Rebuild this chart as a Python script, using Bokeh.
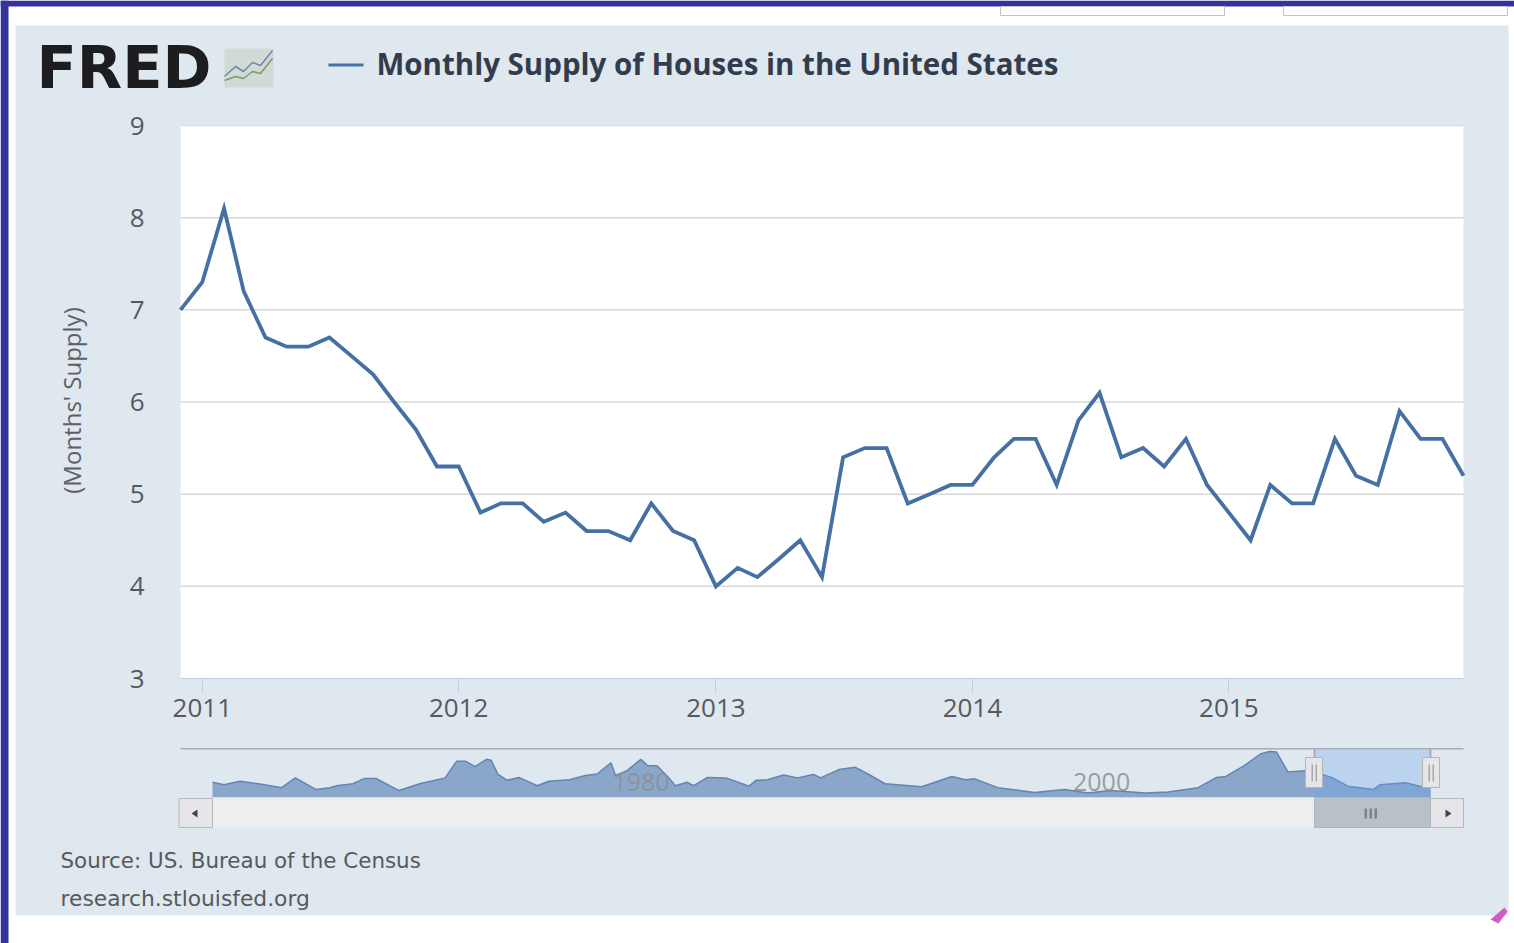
import pandas as pd
from bokeh.embed import file_html
from bokeh.models import (BoxAnnotation, DatetimeAxis, DatetimeTickFormatter, FixedTicker, Label,
                          LinearAxis, PolyAnnotation, Range1d)
from bokeh.plotting import figure
from bokeh.resources import INLINE
from bokeh.core.properties import value

# ---------- data ----------
dates = pd.date_range("2010-12-01", "2015-12-01", freq="MS")
supply = [7.0, 7.3, 8.1, 7.2, 6.7, 6.6, 6.6, 6.7, 6.5, 6.3, 6.0, 5.7, 5.3,
          5.3, 4.8, 4.9, 4.9, 4.7, 4.8, 4.6, 4.6, 4.5, 4.9, 4.6, 4.5,
          4.0, 4.2, 4.1, 4.3, 4.5, 4.1, 5.4, 5.5, 5.5, 4.9, 5.0, 5.1,
          5.1, 5.4, 5.6, 5.6, 5.1, 5.8, 6.1, 5.4, 5.5, 5.3, 5.6, 5.1,
          4.8, 4.5, 5.1, 4.9, 4.9, 5.6, 5.2, 5.1, 5.9, 5.6, 5.6, 5.2]
y_ticks = [3, 4, 5, 6, 7, 8, 9]
grid_values = [4, 5, 6, 7, 8]
x_tick_years = [2011, 2012, 2013, 2014, 2015]

nav_years = [1963.0, 1963.5, 1964.2, 1965.0, 1966.0, 1966.6, 1967.5, 1968.1, 1968.4, 1969.1,
             1969.6, 1970.1, 1971.1, 1972.0, 1973.1, 1973.6, 1974.0, 1974.4, 1974.9, 1975.1,
             1975.4, 1975.8, 1976.3, 1977.1, 1977.6, 1978.5, 1979.2, 1979.7, 1980.3, 1980.5,
             1981.0, 1981.6, 1981.9, 1982.3, 1982.8, 1983.1, 1983.6, 1983.9, 1984.5, 1985.3,
             1986.3, 1986.6, 1987.1, 1987.8, 1988.4, 1989.1, 1989.4, 1990.2, 1990.9, 1991.5,
             1992.2, 1993.8, 1995.1, 1995.7, 1996.1, 1997.1, 1998.7, 2000.0, 2001.0, 2002.0,
             2003.5, 2004.5, 2005.8, 2006.6, 2007.0, 2007.8, 2008.5, 2008.9, 2009.2, 2009.7,
             2010.6, 2011.6, 2012.3, 2013.4, 2013.7, 2014.8, 2015.5, 2015.9]
nav_supply = [5.9, 5.4, 6.1, 5.6, 4.8, 6.8, 4.4, 4.8, 5.2, 5.6,
              6.7, 6.7, 4.2, 5.6, 6.8, 10.2, 10.2, 9.1, 10.6, 10.4,
              7.5, 6.3, 6.9, 5.2, 6.1, 6.4, 7.3, 7.6, 9.9, 7.3,
              8.3, 10.6, 9.3, 9.3, 6.9, 5.2, 5.9, 5.2, 6.9, 6.8,
              5.1, 6.3, 6.4, 7.4, 6.8, 7.5, 6.8, 8.5, 9.0, 7.5,
              5.6, 5.0, 7.1, 6.4, 6.6, 4.8, 3.8, 4.4, 3.7, 4.2,
              3.7, 3.9, 4.8, 6.9, 7.1, 9.3, 11.7, 12.2, 12.1, 8.0,
              8.3, 6.9, 5.1, 4.4, 5.4, 5.8, 5.0, 5.2]
nav_labels = ["1980", "2000"]
nav_label_years = [1980, 2000]

title_text = "Monthly Supply of Houses in the United States"
y_title = "(Months' Supply)"
source_text = "Source: US. Bureau of the Census"
site_text = "research.stlouisfed.org"

# ---------- styles ----------
PANEL = "#dfe7ef"
BAND = "#33339b"
LINE = "#4570a3"
FONT = "Open Sans"
W, H = 1514, 943
L, R, T, B = 180, 1463, 125, 678     # main plot area


def box(l, t, r, b, color, alpha=1.0, level="underlay", line=None):
    p.add_layout(BoxAnnotation(left=l, right=r, top=t, bottom=b,
                               left_units="canvas", right_units="canvas",
                               top_units="canvas", bottom_units="canvas",
                               fill_color=color, fill_alpha=alpha, level=level,
                               line_color=line, line_alpha=1 if line else 0, line_width=1))


def poly(xs, ys, fill, line=None, width=1, alpha=1.0):
    p.add_layout(PolyAnnotation(xs=xs, ys=ys, xs_units="canvas", ys_units="canvas",
                                fill_color=fill, fill_alpha=alpha if fill else 0, level="overlay",
                                line_color=line, line_alpha=1 if line else 0, line_width=width))


def text(x, y, s, size, color, style="normal", font=FONT, angle=0, align="left"):
    p.add_layout(Label(x=x, y=y, x_units="canvas", y_units="canvas", text=s,
                       text_font=font, text_font_size=f"{size}px", text_color=color,
                       text_font_style=style, text_align=align, text_baseline="middle",
                       angle=angle, angle_units="deg"))


# ---------- scales: the plot area fills the canvas, the ranges extend past the chart ----------
t0, t1 = dates[0], dates[-1]
per_px = (t1 - t0) / (R - L)
x_range = Range1d(t0 - per_px * L, t1 + per_px * (W - R))
u = 6 / (B - T)
y_range = Range1d(3 - u * (H - B), 9 + u * T)

p = figure(width=W, height=H, output_backend="svg", toolbar_location=None,
           x_axis_type="datetime", x_axis_location=None, y_axis_location=None,
           x_range=x_range, y_range=y_range,
           min_border=0, border_fill_color="white", background_fill_color="white",
           outline_line_color=None)
p.extra_x_ranges["nav"] = Range1d(1963 - 212 / 23.03, 1963 + (W - 212) / 23.03)
p.extra_y_ranges["nav"] = Range1d(3.6 + (793 - H) * 0.205, 3.6 + 793 * 0.205)

# page furniture
box(15, 25, 1508, 915, PANEL)
box(L, T, R, B, "white")
box(0, 0, W, 6, BAND)
box(0, 0, 8, H, BAND)
box(1000, 6, 1224, 15, "white", line="#c4c4c4")
box(1283, 6, 1507, 15, "white", line="#c4c4c4")

# grid and axes
p.grid.visible = False
grid_end = t1 + per_px * 2
p.segment([t0] * len(grid_values), grid_values, [grid_end] * len(grid_values), grid_values,
          line_color="#d8d8d8", line_width=1.5)
p.segment([t0], [9], [t1], [9], line_color="#d6dde4", line_width=1.5)

yax = LinearAxis(ticker=FixedTicker(ticks=y_ticks), fixed_location=t0.timestamp() * 1000,
                 axis_line_color=None, major_tick_line_color=None, minor_tick_line_color=None,
                 major_label_standoff=30, major_label_text_font=FONT,
                 major_label_text_font_size="26px", major_label_text_color="#555a60")
p.add_layout(yax, "left")
text(71, 400, y_title, 24, "#5c6066", angle=90, align="center")

xax = DatetimeAxis(ticker=FixedTicker(ticks=[pd.Timestamp(f"{y}-01-01").timestamp() * 1000 for y in x_tick_years]),
                   fixed_location=3, bounds=(t0.timestamp() * 1000, t1.timestamp() * 1000),
                   formatter=DatetimeTickFormatter(years="%Y", months="%Y", days="%Y", hours="%Y",
                                                   minutes="%Y", seconds="%Y", milliseconds="%Y",
                                                   minsec="%Y", hourmin="%Y"),
                   axis_line_color="#c0d0e0", major_tick_line_color="#c0d0e0",
                   major_tick_out=15, major_tick_in=0, minor_tick_line_color=None,
                   major_label_standoff=5, major_label_text_font=FONT,
                   major_label_text_font_size="26px", major_label_text_color="#555a60")
p.add_layout(xax, "below")

# main series
p.line(dates, supply, line_color=LINE, line_width=3.8, line_join="miter")

# logo and legend
text(36, 67, "FRED", 59, "#1d1d1f", style="bold", font="DejaVu Sans")
box(224, 48, 273, 87, "#ccd4cf", level="overlay", alpha=0.7)
lx = [224, 235, 243, 252, 260, 272]
poly(lx + lx[::-1], [76, 66, 71, 62, 65, 50, 50, 65, 62, 71, 66, 76], None, line="#6f88a6", width=1.5)
poly(lx + lx[::-1], [80, 76, 78, 71, 73, 58, 58, 73, 71, 78, 76, 80], None, line="#7c9a6a", width=1.5)
poly([328, 363, 363, 328], [63, 63, 66, 66], LINE)
text(376, 63, title_text, 29.5, "#333c4c", style="bold")

# ---------- navigator ----------
base = [p.extra_y_ranges["nav"].start + (H - 797) * 0.205] * len(nav_years)
p.varea(nav_years, base, nav_supply, fill_color="#8aa6c9", x_range_name="nav", y_range_name="nav")
p.line(nav_years, nav_supply, line_color="#5f86b5", line_width=1.5, x_range_name="nav", y_range_name="nav")
p.text(nav_label_years, [5.86, 5.86], text=nav_labels, x_offset=37, text_align="center",
       text_baseline="middle", text_font=value(FONT), text_font_size="25px",
       text_color="#8b8f94", text_alpha=0.85, x_range_name="nav", y_range_name="nav")

box(1314, 748, 1430, 797, "#6aa5ea", alpha=0.3, level="overlay")
box(180, 747.5, 1463, 749, "#a9aeb4", level="overlay")
box(1313, 748, 1315, 757, "#a9aeb4", level="overlay")
box(1429, 748, 1431, 757, "#a9aeb4", level="overlay")
for l in (1305, 1422):
    box(l, 757, l + 17, 787, "#e6e6e8", level="overlay", line="#b9b4b2")
    box(l + 6, 764, l + 7.5, 781, "#a7a7a9", level="overlay")
    box(l + 10, 764, l + 11.5, 781, "#a7a7a9", level="overlay")

box(212, 797, 1314, 827, "#eeeeee", level="overlay")
box(178.5, 798, 212, 827, "#e6e6ea", level="overlay", line="#b4b8bc")
box(1314, 797, 1430, 827, "#b9c0c8", level="overlay", line="#aeb4ba")
box(1430, 798, 1463, 827, "#e6e6ea", level="overlay", line="#b4b8bc")
poly([191, 197, 197], [813, 809, 817], "#444444")
poly([1445, 1451, 1445], [809, 813, 817], "#444444")
for l in (1364, 1369, 1374):
    box(l, 808, l + 2.5, 818, "#7d8288", level="overlay")

text(60, 860, source_text, 21.4, "#555a60", font="DejaVu Sans")
text(60, 898, site_text, 21.8, "#555a60", font="DejaVu Sans")
poly([1490, 1504, 1507, 1498], [919, 907, 911, 923], "#d35cc2")

open("out.html", "w").write(file_html(p, INLINE))
